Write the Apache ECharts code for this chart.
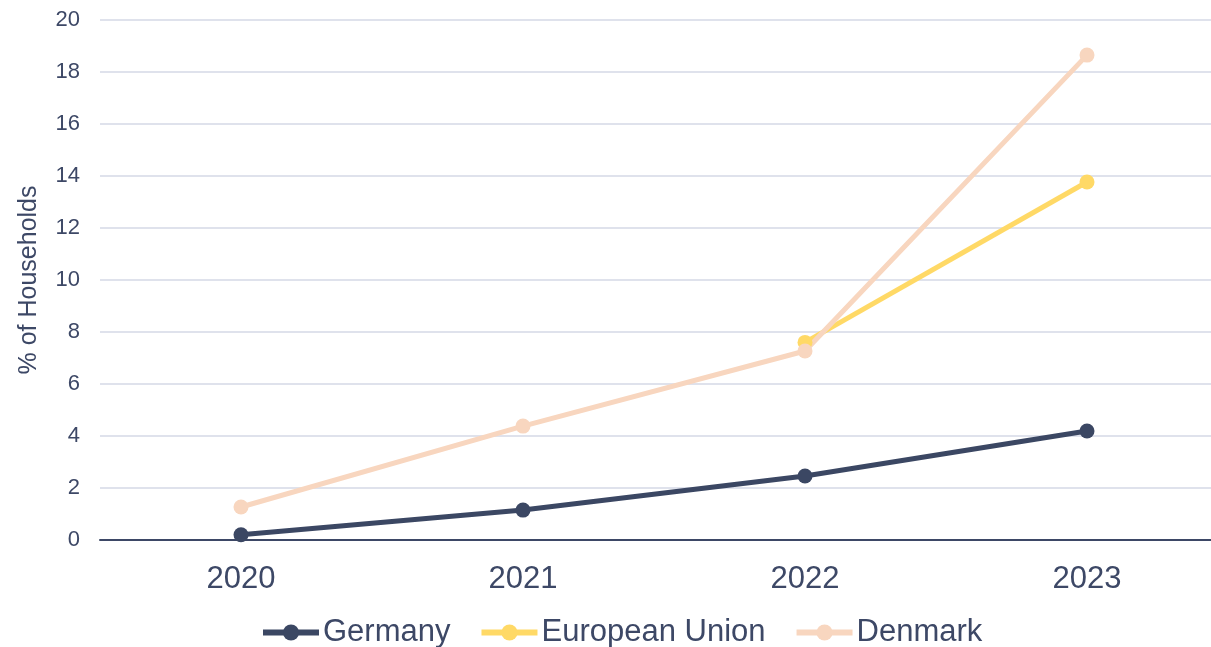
<!DOCTYPE html>
<html>
<head>
<meta charset="utf-8">
<script src="https://cdn.jsdelivr.net/npm/echarts@6/dist/echarts.min.js"></script>
<style>
html, body { margin: 0; padding: 0; background: #fff; }
#main { width: 1211px; height: 647px; }
</style>
</head>
<body>
<div id="main"></div>
<script>
// data
var years = ['2020', '2021', '2022', '2023'];
var germany = [0.2, 1.15, 2.46, 4.19];
var eu = [null, null, 7.6, 13.77];
var denmark = [1.27, 4.38, 7.27, 18.65];

var textColor = '#3d4866';

function lineSeries(name, data, color, width) {
    return {
        name: name,
        type: 'line',
        data: data,
        symbol: 'circle',
        symbolSize: 15,
        lineStyle: { color: color, width: width },
        itemStyle: { color: color },
        connectNulls: false
    };
}

echarts.init(document.getElementById('main')).setOption({
    animation: false,
    textStyle: { fontFamily: 'Arial, Liberation Sans, sans-serif' },
    grid: { left: 100, width: 1128, top: 20, bottom: 107, containLabel: false, outerBoundsMode: 'none' },
    legend: {
        top: 612,
        left: 255,
        itemWidth: 56,
        itemHeight: 20,
        itemGap: 28,
        lineStyle: { width: 6 },
        textStyle: { color: textColor, fontSize: 31, padding: [0, 0, 0, -1] },
        data: ['Germany', 'European Union', 'Denmark']
    },
    xAxis: {
        type: 'category',
        data: years,
        boundaryGap: true,
        axisTick: { show: false },
        axisLine: { lineStyle: { color: '#3d4866', width: 2 } },
        axisLabel: { color: textColor, fontSize: 31, margin: 24 }
    },
    yAxis: {
        type: 'value',
        min: 0,
        max: 20,
        interval: 2,
        name: '% of Households',
        nameLocation: 'middle',
        nameGap: 58,
        nameTextStyle: { color: textColor, fontSize: 25 },
        axisLabel: { color: textColor, fontSize: 22, margin: 20 },
        axisLine: { show: false },
        axisTick: { show: false },
        splitLine: { lineStyle: { color: '#dfe2ec', width: 2 } }
    },
    series: [
        lineSeries('Germany', germany, '#3b4763', 5),
        lineSeries('European Union', eu, '#ffd966', 5),
        lineSeries('Denmark', denmark, '#f8d6bf', 5)
    ]
});
</script>
</body>
</html>
